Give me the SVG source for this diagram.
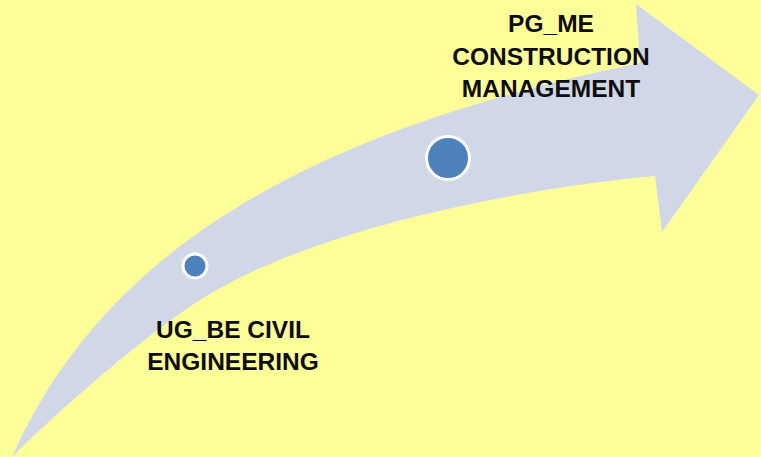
<svg xmlns="http://www.w3.org/2000/svg" width="761" height="457" viewBox="0 0 761 457">
  <style>
    .lbl { font-family: "Liberation Sans", Arial, sans-serif; font-weight: bold; font-size: 24.5px; fill: #0d0d0d; text-anchor: middle; }
    .dot { fill: #4F81BD; stroke: #FFFFFF; stroke-width: 3; }
  </style>
  <rect x="0" y="0" width="761" height="457" fill="#FFFF99"/>
  <g id="connectors">
    <path id="arrow" d="M12,457 C96,269 275,138 640,63 L636,4 L759,95 L662,232 L655,176 C535,187 320,224 200,300 C150,331.5 62,407 12,457 Z" fill="#D0D8E8"/>
  </g>
  <g id="node-ug">
    <circle class="dot" cx="195" cy="266" r="12"/>
    <text class="lbl" x="233" y="338">UG_BE CIVIL</text>
    <text class="lbl" x="233" y="370">ENGINEERING</text>
  </g>
  <g id="node-pg">
    <circle class="dot" cx="448" cy="158" r="21.5"/>
    <text class="lbl" x="551" y="32">PG_ME</text>
    <text class="lbl" x="551" y="65">CONSTRUCTION</text>
    <text class="lbl" x="551" y="97">MANAGEMENT</text>
  </g>
</svg>
